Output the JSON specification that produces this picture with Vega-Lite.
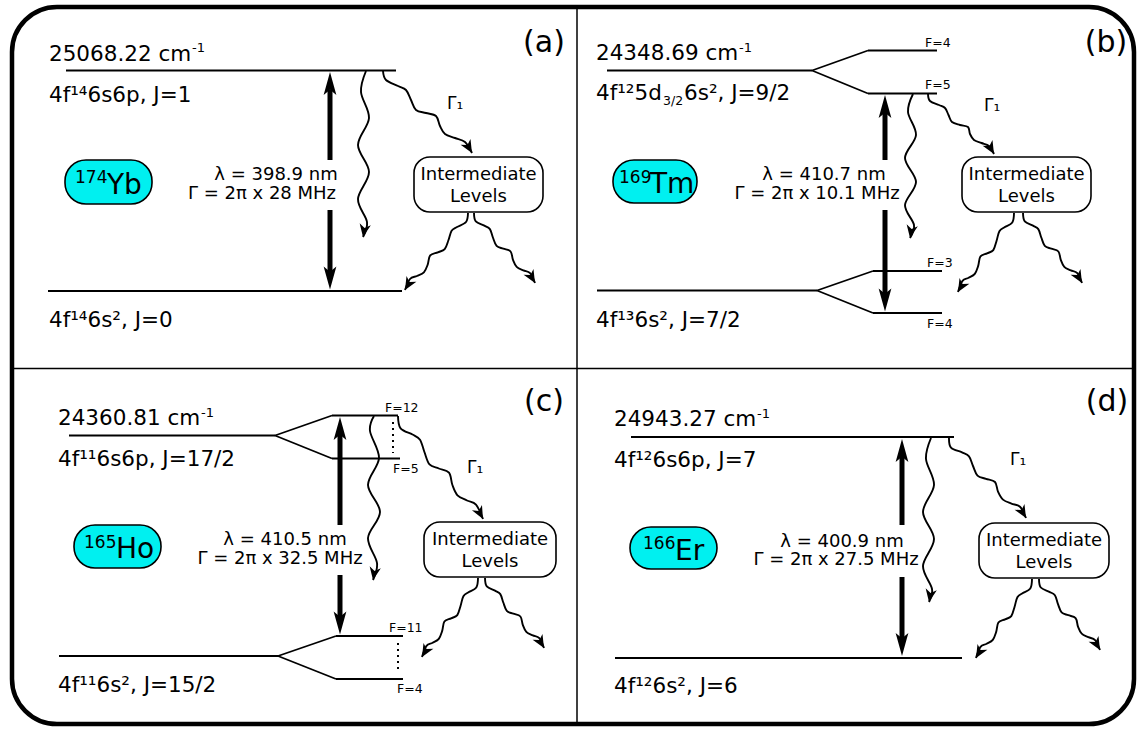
{
"$schema":"https://vega.github.io/schema/vega-lite/v6.json",
"width":1139,"height":729,"padding":0,
"autosize":{"type":"fit","contains":"padding"},
"background":"white",
"config":{"view":{"stroke":null},"text":{"font":"DejaVu Sans","color":"black"}},
"datasets":{
"frame":[{"x":12,"x2":1134,"y":7,"y2":724}],
"dividers":[{"x":577,"x2":577,"y":7,"y2":724},{"x":12,"x2":1134,"y":368.5,"y2":368.5}],
"levels":[
{"x":66,"x2":396,"y":70.5,"y2":70.5},{"x":48,"x2":402,"y":291,"y2":291},
{"x":607,"x2":812,"y":70.5,"y2":70.5},{"x":812,"x2":868,"y":70.5,"y2":50.5},{"x":868,"x2":937,"y":50.5,"y2":50.5},{"x":812,"x2":868,"y":70.5,"y2":93.5},{"x":868,"x2":937,"y":93.5,"y2":93.5},
{"x":597,"x2":817,"y":290.5,"y2":290.5},{"x":817,"x2":873,"y":290.5,"y2":271},{"x":873,"x2":942,"y":271,"y2":271},{"x":817,"x2":873,"y":290.5,"y2":313},{"x":873,"x2":942,"y":313,"y2":313},
{"x":69,"x2":275,"y":435.5,"y2":435.5},{"x":275,"x2":332,"y":435.5,"y2":415.5},{"x":332,"x2":398,"y":415.5,"y2":415.5},{"x":275,"x2":332,"y":435.5,"y2":458.5},{"x":332,"x2":400,"y":458.5,"y2":458.5},
{"x":59,"x2":278,"y":656,"y2":656},{"x":278,"x2":336,"y":656,"y2":636},{"x":336,"x2":403,"y":636,"y2":636},{"x":278,"x2":336,"y":656,"y2":679},{"x":336,"x2":403,"y":679,"y2":679},
{"x":631,"x2":954,"y":437,"y2":437},{"x":615,"x2":962,"y":658,"y2":658}],
"dots":[{"x":393,"x2":393,"y":422,"y2":453},{"x":398,"x2":398,"y":643,"y2":672}],
"shafts":[
{"x":330,"x2":330,"y":90,"y2":160},{"x":330,"x2":330,"y":210,"y2":272},
{"x":885,"x2":885,"y":112,"y2":160},{"x":885,"x2":885,"y":210,"y2":294},
{"x":340,"x2":340,"y":434,"y2":525},{"x":340,"x2":340,"y":575,"y2":617},
{"x":902,"x2":902,"y":456,"y2":525},{"x":902,"x2":902,"y":577,"y2":639}],
"heads":[
{"x":330,"y":72,"ang":0},{"x":330,"y":289.5,"ang":180},
{"x":885,"y":95,"ang":0},{"x":885,"y":311.5,"ang":180},
{"x":340,"y":417,"ang":0},{"x":340,"y":634.5,"ang":180},
{"x":902,"y":439,"ang":0},{"x":902,"y":656,"ang":180}],
"waves":[
{"id":"a1","i":0,"x":366,"y":71},{"id":"a1","i":1,"x":361,"y":92},{"id":"a1","i":2,"x":369,"y":118},{"id":"a1","i":3,"x":358,"y":145},{"id":"a1","i":4,"x":369,"y":172},{"id":"a1","i":5,"x":358,"y":199},{"id":"a1","i":6,"x":367,"y":222},{"id":"a1","i":7,"x":363,"y":237},
{"id":"b1","i":0,"x":913,"y":94},{"id":"b1","i":1,"x":908,"y":112},{"id":"b1","i":2,"x":916,"y":135},{"id":"b1","i":3,"x":905,"y":158},{"id":"b1","i":4,"x":916,"y":182},{"id":"b1","i":5,"x":905,"y":205},{"id":"b1","i":6,"x":914,"y":225},{"id":"b1","i":7,"x":910,"y":238},
{"id":"c1","i":0,"x":374,"y":416},{"id":"c1","i":1,"x":370,"y":431},{"id":"c1","i":2,"x":379,"y":458},{"id":"c1","i":3,"x":368,"y":485},{"id":"c1","i":4,"x":380,"y":512},{"id":"c1","i":5,"x":368,"y":538},{"id":"c1","i":6,"x":377,"y":563},{"id":"c1","i":7,"x":373,"y":580},
{"id":"d1","i":0,"x":931,"y":438},{"id":"d1","i":1,"x":926,"y":459},{"id":"d1","i":2,"x":934,"y":485},{"id":"d1","i":3,"x":923,"y":512},{"id":"d1","i":4,"x":934,"y":539},{"id":"d1","i":5,"x":923,"y":566},{"id":"d1","i":6,"x":932,"y":589},{"id":"d1","i":7,"x":929,"y":602},
{"id":"a2","i":0,"x":383,"y":71},{"id":"a2","i":1,"x":386,"y":80},{"id":"a2","i":2,"x":398,"y":86},{"id":"a2","i":3,"x":406,"y":90},{"id":"a2","i":4,"x":411,"y":100},{"id":"a2","i":5,"x":416,"y":110},{"id":"a2","i":6,"x":426,"y":113},{"id":"a2","i":7,"x":436,"y":116},{"id":"a2","i":8,"x":440,"y":126},{"id":"a2","i":9,"x":445,"y":134},{"id":"a2","i":10,"x":455,"y":138},{"id":"a2","i":11,"x":465,"y":142},{"id":"a2","i":12,"x":472,"y":153},
{"id":"b2","i":0,"x":928,"y":94},{"id":"b2","i":1,"x":930,"y":101},{"id":"b2","i":2,"x":939,"y":105},{"id":"b2","i":3,"x":945,"y":108},{"id":"b2","i":4,"x":948.5,"y":115},{"id":"b2","i":5,"x":952,"y":122},{"id":"b2","i":6,"x":960,"y":125},{"id":"b2","i":7,"x":968,"y":127},{"id":"b2","i":8,"x":970,"y":134},{"id":"b2","i":9,"x":974,"y":140},{"id":"b2","i":10,"x":981.5,"y":143},{"id":"b2","i":11,"x":989,"y":146},{"id":"b2","i":12,"x":994,"y":154},
{"id":"c2","i":0,"x":398,"y":416},{"id":"c2","i":1,"x":400.6,"y":428.4},{"id":"c2","i":2,"x":412.5,"y":434.5},{"id":"c2","i":3,"x":420,"y":439.7},{"id":"c2","i":4,"x":424.4,"y":452},{"id":"c2","i":5,"x":429.5,"y":464.4},{"id":"c2","i":6,"x":438.8,"y":468.5},{"id":"c2","i":7,"x":449,"y":472.7},{"id":"c2","i":8,"x":452.4,"y":485},{"id":"c2","i":9,"x":457.5,"y":495.3},{"id":"c2","i":10,"x":467,"y":500.5},{"id":"c2","i":11,"x":476,"y":504.6},{"id":"c2","i":12,"x":483,"y":519},
{"id":"d2","i":0,"x":949,"y":438},{"id":"d2","i":1,"x":951,"y":447.6},{"id":"d2","i":2,"x":962,"y":452.4},{"id":"d2","i":3,"x":969,"y":456.4},{"id":"d2","i":4,"x":973,"y":466},{"id":"d2","i":5,"x":977.5,"y":475.6},{"id":"d2","i":6,"x":986,"y":478.8},{"id":"d2","i":7,"x":995,"y":482},{"id":"d2","i":8,"x":998,"y":491.6},{"id":"d2","i":9,"x":1003,"y":499.6},{"id":"d2","i":10,"x":1011.4,"y":503.6},{"id":"d2","i":11,"x":1020,"y":506.8},{"id":"d2","i":12,"x":1026,"y":518},
{"id":"a3","i":0,"x":468,"y":213},{"id":"a3","i":1,"x":466,"y":222},{"id":"a3","i":2,"x":457,"y":227},{"id":"a3","i":3,"x":451.6,"y":230.7},{"id":"a3","i":4,"x":448.5,"y":240},{"id":"a3","i":5,"x":444.7,"y":249.2},{"id":"a3","i":6,"x":437.8,"y":252.3},{"id":"a3","i":7,"x":430.2,"y":255.4},{"id":"a3","i":8,"x":427.7,"y":264.6},{"id":"a3","i":9,"x":423.9,"y":272.3},{"id":"a3","i":10,"x":417,"y":276},{"id":"a3","i":11,"x":410,"y":279},{"id":"a3","i":12,"x":405,"y":290},
{"id":"b3","i":0,"x":1014,"y":213},{"id":"b3","i":1,"x":1012.3,"y":222.5},{"id":"b3","i":2,"x":1004.5,"y":227.2},{"id":"b3","i":3,"x":999.4,"y":231.2},{"id":"b3","i":4,"x":996.6,"y":240.7},{"id":"b3","i":5,"x":993.3,"y":250.1},{"id":"b3","i":6,"x":987.1,"y":253.3},{"id":"b3","i":7,"x":980.4,"y":256.5},{"id":"b3","i":8,"x":978.2,"y":265.9},{"id":"b3","i":9,"x":974.8,"y":273.8},{"id":"b3","i":10,"x":968.6,"y":277.8},{"id":"b3","i":11,"x":962.5,"y":280.9},{"id":"b3","i":12,"x":958,"y":292},
{"id":"c3","i":0,"x":478,"y":578},{"id":"c3","i":1,"x":476.3,"y":587.5},{"id":"c3","i":2,"x":468.5,"y":592.2},{"id":"c3","i":3,"x":463.4,"y":596.2},{"id":"c3","i":4,"x":460.6,"y":605.7},{"id":"c3","i":5,"x":457.3,"y":615.1},{"id":"c3","i":6,"x":451.1,"y":618.3},{"id":"c3","i":7,"x":444.4,"y":621.5},{"id":"c3","i":8,"x":442.2,"y":630.9},{"id":"c3","i":9,"x":438.8,"y":638.8},{"id":"c3","i":10,"x":432.6,"y":642.8},{"id":"c3","i":11,"x":426.5,"y":645.9},{"id":"c3","i":12,"x":422,"y":657},
{"id":"d3","i":0,"x":1032,"y":579},{"id":"d3","i":1,"x":1030.3,"y":588.5},{"id":"d3","i":2,"x":1022.5,"y":593.2},{"id":"d3","i":3,"x":1017.4,"y":597.2},{"id":"d3","i":4,"x":1014.6,"y":606.7},{"id":"d3","i":5,"x":1011.3,"y":616.1},{"id":"d3","i":6,"x":1005.1,"y":619.3},{"id":"d3","i":7,"x":998.4,"y":622.5},{"id":"d3","i":8,"x":996.2,"y":631.9},{"id":"d3","i":9,"x":992.8,"y":639.8},{"id":"d3","i":10,"x":986.6,"y":643.8},{"id":"d3","i":11,"x":980.5,"y":646.9},{"id":"d3","i":12,"x":976,"y":658},
{"id":"a4","i":0,"x":474,"y":213},{"id":"a4","i":1,"x":475.8,"y":221.4},{"id":"a4","i":2,"x":484.4,"y":225.6},{"id":"a4","i":3,"x":489.9,"y":229.1},{"id":"a4","i":4,"x":492.9,"y":237.5},{"id":"a4","i":5,"x":496.6,"y":245.9},{"id":"a4","i":6,"x":503.3,"y":248.7},{"id":"a4","i":7,"x":510.6,"y":251.5},{"id":"a4","i":8,"x":513,"y":259.9},{"id":"a4","i":9,"x":516.7,"y":266.9},{"id":"a4","i":10,"x":523.4,"y":270.4},{"id":"a4","i":11,"x":530.1,"y":273.2},{"id":"a4","i":12,"x":535,"y":283},
{"id":"b4","i":0,"x":1023,"y":213},{"id":"b4","i":1,"x":1024.8,"y":221.4},{"id":"b4","i":2,"x":1033,"y":225.6},{"id":"b4","i":3,"x":1038.3,"y":229.1},{"id":"b4","i":4,"x":1041.3,"y":237.5},{"id":"b4","i":5,"x":1044.8,"y":245.9},{"id":"b4","i":6,"x":1051.3,"y":248.7},{"id":"b4","i":7,"x":1058.4,"y":251.5},{"id":"b4","i":8,"x":1060.8,"y":259.9},{"id":"b4","i":9,"x":1064.3,"y":266.9},{"id":"b4","i":10,"x":1070.8,"y":270.4},{"id":"b4","i":11,"x":1077.3,"y":273.2},{"id":"b4","i":12,"x":1082,"y":283},
{"id":"c4","i":0,"x":485,"y":578},{"id":"c4","i":1,"x":486.8,"y":586.4},{"id":"c4","i":2,"x":495,"y":590.6},{"id":"c4","i":3,"x":500.3,"y":594.1},{"id":"c4","i":4,"x":503.3,"y":602.5},{"id":"c4","i":5,"x":506.8,"y":610.9},{"id":"c4","i":6,"x":513.3,"y":613.7},{"id":"c4","i":7,"x":520.4,"y":616.5},{"id":"c4","i":8,"x":522.8,"y":624.9},{"id":"c4","i":9,"x":526.3,"y":631.9},{"id":"c4","i":10,"x":532.8,"y":635.4},{"id":"c4","i":11,"x":539.3,"y":638.2},{"id":"c4","i":12,"x":544,"y":648},
{"id":"d4","i":0,"x":1039,"y":579},{"id":"d4","i":1,"x":1040.8,"y":587.5},{"id":"d4","i":2,"x":1049.4,"y":591.8},{"id":"d4","i":3,"x":1054.9,"y":595.3},{"id":"d4","i":4,"x":1057.9,"y":603.9},{"id":"d4","i":5,"x":1061.6,"y":612.4},{"id":"d4","i":6,"x":1068.3,"y":615.2},{"id":"d4","i":7,"x":1075.6,"y":618.1},{"id":"d4","i":8,"x":1078,"y":626.6},{"id":"d4","i":9,"x":1081.7,"y":633.7},{"id":"d4","i":10,"x":1088.4,"y":637.2},{"id":"d4","i":11,"x":1095.1,"y":640.1},{"id":"d4","i":12,"x":1100,"y":650}],
"wheads":[
{"x":363,"y":237,"ang":190},{"x":910,"y":238,"ang":190},{"x":373,"y":580,"ang":190},{"x":929,"y":602,"ang":190},
{"x":472,"y":153,"ang":150},{"x":994,"y":154,"ang":150},{"x":483,"y":519,"ang":152},{"x":1026,"y":518,"ang":150},
{"x":405,"y":290,"ang":210},{"x":958,"y":292,"ang":210},{"x":422,"y":657,"ang":210},{"x":976,"y":658,"ang":210},
{"x":535,"y":283,"ang":150},{"x":1082,"y":283,"ang":150},{"x":544,"y":648,"ang":150},{"x":1100,"y":650,"ang":150}],
"boxes":[{"x":414,"x2":543,"y":157,"y2":212},{"x":962,"x2":1091,"y":157,"y2":212},{"x":424,"x2":556,"y":522,"y2":577},{"x":979,"x2":1109,"y":523,"y2":578}],
"pills":[{"x":65,"x2":152,"y":160,"y2":204},{"x":613,"x2":697,"y":160,"y2":203},{"x":74,"x2":161,"y":525,"y2":568},{"x":630,"x2":717,"y":527,"y2":569}],
"labels":[
{"t":"25068.22 cm","x":49,"y":60.5},{"t":"4f¹⁴6s6p, J=1","x":49,"y":101.5},{"t":"4f¹⁴6s², J=0","x":49,"y":327},
{"t":"24348.69 cm","x":596,"y":60},{"t":"4f¹²5d","x":596,"y":100},{"t":"6s², J=9/2","x":684,"y":100},{"t":"4f¹³6s², J=7/2","x":596,"y":326.5},
{"t":"24360.81 cm","x":58,"y":425},{"t":"4f¹¹6s6p, J=17/2","x":58,"y":465.5},{"t":"4f¹¹6s², J=15/2","x":58,"y":691.5},
{"t":"24943.27 cm","x":614,"y":426},{"t":"4f¹²6s6p, J=7","x":614,"y":466.5},{"t":"4f¹²6s², J=6","x":614,"y":693}],
"sups":[{"t":"-1","x":192,"y":52},{"t":"-1","x":739,"y":51.5},{"t":"-1","x":201,"y":416.5},{"t":"-1","x":757,"y":417.5}],
"subs":[{"t":"3/2","x":663,"y":105}],
"flabels":[{"t":"F=4","x":925,"y":47},{"t":"F=5","x":925,"y":89},{"t":"F=3","x":927,"y":267},{"t":"F=4","x":927,"y":327.5},{"t":"F=12","x":385,"y":411.5},{"t":"F=5","x":393,"y":473},{"t":"F=11","x":389,"y":631.5},{"t":"F=4","x":397,"y":693}],
"lams":[{"t":"λ = 398.9 nm","x":276,"y":180},{"t":"Γ = 2π x 28 MHz","x":262,"y":198.5},{"t":"λ = 410.7 nm","x":824,"y":180},{"t":"Γ = 2π x 10.1 MHz","x":817,"y":198.5},{"t":"λ = 410.5 nm","x":285,"y":545},{"t":"Γ = 2π x 32.5 MHz","x":280,"y":563.5},{"t":"λ = 400.9 nm","x":842,"y":546.5},{"t":"Γ = 2π x 27.5 MHz","x":836,"y":565}],
"gams":[{"t":"Γ₁","x":447,"y":109},{"t":"Γ₁","x":984,"y":111},{"t":"Γ₁","x":467,"y":473},{"t":"Γ₁","x":1010,"y":465}],
"inter":[{"t":"Intermediate","x":478.5,"y":180},{"t":"Levels","x":478.5,"y":201.5},{"t":"Intermediate","x":1026.5,"y":180},{"t":"Levels","x":1026.5,"y":201.5},{"t":"Intermediate","x":490,"y":545},{"t":"Levels","x":490,"y":566.5},{"t":"Intermediate","x":1044,"y":546},{"t":"Levels","x":1044,"y":567.5}],
"panels":[{"t":"(a)","x":544,"y":52},{"t":"(b)","x":1106,"y":52},{"t":"(c)","x":544,"y":411},{"t":"(d)","x":1107,"y":411}],
"isosup":[{"t":"174","x":75,"y":183},{"t":"169","x":619,"y":182.5},{"t":"165","x":84,"y":547.5},{"t":"166","x":643,"y":549}],
"isomain":[{"t":"Yb","x":107,"y":193.5},{"t":"Tm","x":650,"y":193},{"t":"Ho","x":116,"y":558},{"t":"Er","x":675,"y":559.5}]
},
"encoding":{
"x":{"field":"x","type":"quantitative","scale":{"domain":[0,1139],"nice":false,"zero":false},"axis":null},
"y":{"field":"y","type":"quantitative","scale":{"domain":[0,729],"nice":false,"zero":false,"reverse":true},"axis":null}
},
"layer":[
{"data":{"name":"frame"},"mark":{"type":"rect","cornerRadius":45,"fill":"transparent","stroke":"black","strokeWidth":4.5},"encoding":{"x2":{"field":"x2"},"y2":{"field":"y2"}}},
{"data":{"name":"dividers"},"mark":{"type":"rule","color":"black","strokeWidth":1.5},"encoding":{"x2":{"field":"x2"},"y2":{"field":"y2"}}},
{"data":{"name":"levels"},"mark":{"type":"rule","color":"black","strokeWidth":1.8},"encoding":{"x2":{"field":"x2"},"y2":{"field":"y2"}}},
{"data":{"name":"dots"},"mark":{"type":"rule","color":"black","strokeWidth":2,"strokeDash":[2,4]},"encoding":{"x2":{"field":"x2"},"y2":{"field":"y2"}}},
{"data":{"name":"shafts"},"mark":{"type":"rule","color":"black","strokeWidth":5},"encoding":{"x2":{"field":"x2"},"y2":{"field":"y2"}}},
{"data":{"name":"heads"},"mark":{"type":"point","shape":"M0,0L0.5,1.8L0,1.4L-0.5,1.8Z","size":650,"filled":true,"color":"black","opacity":1,"strokeWidth":0},"encoding":{"angle":{"field":"ang","type":"quantitative","scale":null}}},
{"data":{"name":"waves"},"mark":{"type":"line","interpolate":"cardinal","color":"black","strokeWidth":1.9},"encoding":{"detail":{"field":"id"},"order":{"field":"i","type":"quantitative"}}},
{"data":{"name":"wheads"},"mark":{"type":"point","shape":"M0,0L0.75,1.7L0,1.2L-0.75,1.7Z","size":230,"filled":true,"color":"black","opacity":1,"strokeWidth":0},"encoding":{"angle":{"field":"ang","type":"quantitative","scale":null}}},
{"data":{"name":"boxes"},"mark":{"type":"rect","cornerRadius":16,"fill":"white","stroke":"black","strokeWidth":1.6},"encoding":{"x2":{"field":"x2"},"y2":{"field":"y2"}}},
{"data":{"name":"pills"},"mark":{"type":"rect","cornerRadius":21,"fill":"#00f0f0","stroke":"black","strokeWidth":1.6},"encoding":{"x2":{"field":"x2"},"y2":{"field":"y2"}}},
{"data":{"name":"labels"},"mark":{"type":"text","align":"left","baseline":"alphabetic","fontSize":21.5},"encoding":{"text":{"field":"t"}}},
{"data":{"name":"sups"},"mark":{"type":"text","align":"left","baseline":"alphabetic","fontSize":13},"encoding":{"text":{"field":"t"}}},
{"data":{"name":"subs"},"mark":{"type":"text","align":"left","baseline":"alphabetic","fontSize":12.5},"encoding":{"text":{"field":"t"}}},
{"data":{"name":"flabels"},"mark":{"type":"text","align":"left","baseline":"alphabetic","fontSize":12.5},"encoding":{"text":{"field":"t"}}},
{"data":{"name":"lams"},"mark":{"type":"text","align":"center","baseline":"alphabetic","fontSize":18},"encoding":{"text":{"field":"t"}}},
{"data":{"name":"gams"},"mark":{"type":"text","align":"left","baseline":"alphabetic","fontSize":17},"encoding":{"text":{"field":"t"}}},
{"data":{"name":"inter"},"mark":{"type":"text","align":"center","baseline":"alphabetic","fontSize":18},"encoding":{"text":{"field":"t"}}},
{"data":{"name":"panels"},"mark":{"type":"text","align":"center","baseline":"alphabetic","fontSize":30},"encoding":{"text":{"field":"t"}}},
{"data":{"name":"isosup"},"mark":{"type":"text","align":"left","baseline":"alphabetic","fontSize":17},"encoding":{"text":{"field":"t"}}},
{"data":{"name":"isomain"},"mark":{"type":"text","align":"left","baseline":"alphabetic","fontSize":28},"encoding":{"text":{"field":"t"}}}
]
}
